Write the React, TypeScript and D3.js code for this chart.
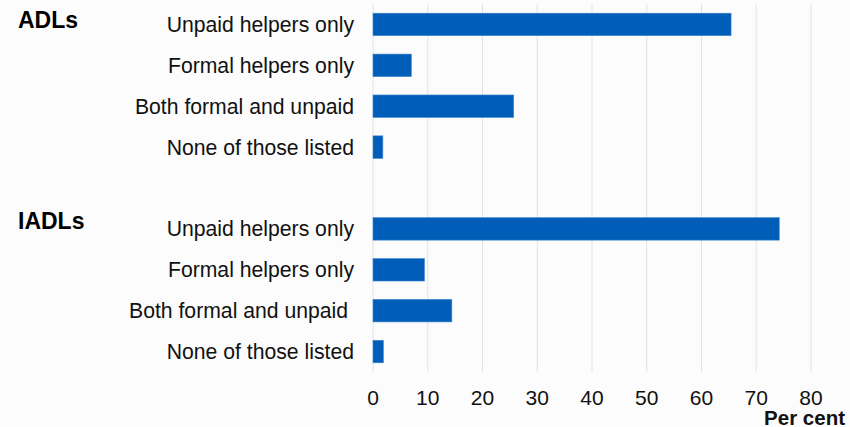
import React from "react";
import * as d3 from "d3";

const groups = ["ADLs", "IADLs"];
const categories = [
  "Unpaid helpers only",
  "Formal helpers only",
  "Both formal and unpaid",
  "None of those listed",
];
const adlValues = [65.4, 7.0, 25.7, 1.8];
const iadlValues = [74.2, 9.4, 14.4, 1.9];
const xTicks = [0, 10, 20, 30, 40, 50, 60, 70, 80];
const xAxisTitle = "Per cent";

const W = 850;
const H = 427;
const FONT = "'Liberation Sans', Arial, Helvetica, sans-serif";

export default function App() {
  const rows: { key: string; label: string; value: number | null }[] = [];
  categories.forEach((c, i) => rows.push({ key: `a${i}`, label: c, value: adlValues[i] }));
  rows.push({ key: "gap", label: "", value: null });
  categories.forEach((c, i) =>
    rows.push({
      key: `i${i}`,
      label: i === 2 ? c + "\u00a0" : c,
      value: iadlValues[i],
    })
  );

  const x = d3.scaleLinear().domain([0, 80]).range([373, 811]);
  const y = d3
    .scaleBand<string>()
    .domain(rows.map((r) => r.key))
    .range([4, 372])
    .paddingInner(0.45)
    .paddingOuter(0.225);

  return (
    <svg
      width={W}
      height={H}
      style={{ position: "absolute", left: 0, top: 0, background: "#fcfcfc" }}
      fontFamily={FONT}
    >
      {xTicks.map((t) => (
        <line
          key={`g${t}`}
          x1={x(t)}
          x2={x(t)}
          y1={4}
          y2={372}
          stroke="#dfe2e8"
          strokeWidth={1}
        />
      ))}
      {rows
        .filter((r) => r.value !== null)
        .map((r) => (
          <rect
            key={r.key}
            x={x(0)}
            y={y(r.key)!}
            width={x(r.value as number) - x(0)}
            height={y.bandwidth()}
            fill="#005EB8"
            stroke="#3f86cf"
            strokeWidth={0.6}
          />
        ))}
      {rows
        .filter((r) => r.value !== null)
        .map((r) => (
          <text
            key={`l${r.key}`}
            x={354}
            y={y(r.key)! + y.bandwidth() / 2}
            dy="0.35em"
            textAnchor="end"
            fontSize={21.2}
            fill="#111"
            style={{ whiteSpace: "pre" }}
          >
            {r.label}
          </text>
        ))}
      {groups.map((g, gi) => {
        const key = gi === 0 ? "a0" : "i0";
        return (
          <text
            key={g}
            x={18}
            y={y(key)! + y.bandwidth() / 2 + (gi === 0 ? 3.5 : 0.5)}
            fontSize={23}
            fontWeight="bold"
            fill="#000"
          >
            {g}
          </text>
        );
      })}
      {xTicks.map((t) => (
        <text
          key={`t${t}`}
          x={x(t)}
          y={405}
          textAnchor="middle"
          fontSize={21}
          fill="#111"
        >
          {t}
        </text>
      ))}
      <text x={845} y={424.5} textAnchor="end" fontSize={20.5} fontWeight="bold" fill="#111">
        {xAxisTitle}
      </text>
    </svg>
  );
}
